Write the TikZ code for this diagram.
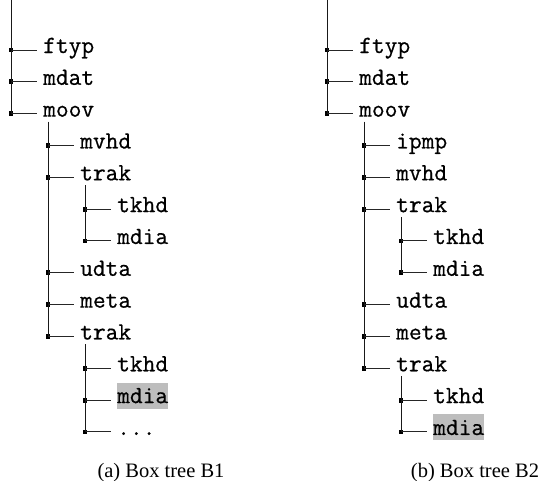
\documentclass[tikz,border=0pt]{standalone}
\usepackage{fontspec}
\newfontfamily\capfont{Liberation Serif}
\newfontfamily\boxfont[FakeBold=0.6]{Latin Modern Mono}
\usetikzlibrary{calc}
\newcommand\moreboxes{...}
\tikzset{
  boxname/.style={anchor=base west, inner xsep=0pt, inner ysep=0pt,
    font=\boxfont\fontsize{24.76}{30}\selectfont,
    text height=20.5pt, text depth=5.5pt},
  marked/.style={boxname, fill=black!26},
  joint/.style={draw=none, fill=black, rectangle, minimum size=4.8pt, inner sep=0pt},
  stub/.style={line width=1pt, draw=black!85, shorten >=6pt},
  stem/.style={line width=1pt, draw=black!90},
  caption/.style={anchor=base, inner sep=0pt, font=\capfont\fontsize{20.5}{24}\selectfont}
}
\begin{document}
\begin{tikzpicture}[x=1pt,y=-1pt]
\useasboundingbox (0,0) rectangle (546,480);

% box tree B1: name / depth / row / label / style
\foreach \n/\lv/\r/\t/\s in {0/0/0/ftyp/boxname, 1/0/1/mdat/boxname, 2/0/2/moov/boxname,
    3/1/3/mvhd/boxname, 4/1/4/trak/boxname, 5/2/5/tkhd/boxname, 6/2/6/mdia/boxname,
    7/1/7/udta/boxname, 8/1/8/meta/boxname, 9/1/9/trak/boxname, 10/2/10/tkhd/boxname,
    11/2/11/mdia/marked, 12/2/12/\moreboxes/boxname} {
  \node[joint] (L\n) at ({11+37*\lv},{50+31.83*\r}) {};
  \node[\s] (Lt\n) at ({43+37*\lv},{53+31.83*\r}) {\t};
  \draw[stub] (L\n.center) -- (Lt\n.west |- L\n);
}
\coordinate (Lroot) at (11,0);
\draw[stem] (Lroot) -- (L2.center);
\draw[stem] ($(L3|-L2)+(0,8)$) -- (L9.center);
\draw[stem] ($(L5|-L4)+(0,8)$) -- (L6.center);
\draw[stem] ($(L10|-L9)+(0,8)$) -- (L12.center);

% box tree B2
\foreach \n/\lv/\r/\t/\s in {0/0/0/ftyp/boxname, 1/0/1/mdat/boxname, 2/0/2/moov/boxname,
    3/1/3/ipmp/boxname, 4/1/4/mvhd/boxname, 5/1/5/trak/boxname, 6/2/6/tkhd/boxname,
    7/2/7/mdia/boxname, 8/1/8/udta/boxname, 9/1/9/meta/boxname, 10/1/10/trak/boxname,
    11/2/11/tkhd/boxname, 12/2/12/mdia/marked} {
  \node[joint] (R\n) at ({327+37*\lv},{50+31.83*\r}) {};
  \node[\s] (Rt\n) at ({359+37*\lv},{53+31.83*\r}) {\t};
  \draw[stub] (R\n.center) -- (Rt\n.west |- R\n);
}
\coordinate (Rroot) at (327,0);
\draw[stem] (Rroot) -- (R2.center);
\draw[stem] ($(R3|-R2)+(0,8)$) -- (R10.center);
\draw[stem] ($(R6|-R5)+(0,8)$) -- (R7.center);
\draw[stem] ($(R11|-R10)+(0,8)$) -- (R12.center);

\node[caption] (capA) at (161,477) {(a) Box tree B1};
\node[caption] (capB) at (475,477) {(b) Box tree B2};
\end{tikzpicture}
\end{document}
